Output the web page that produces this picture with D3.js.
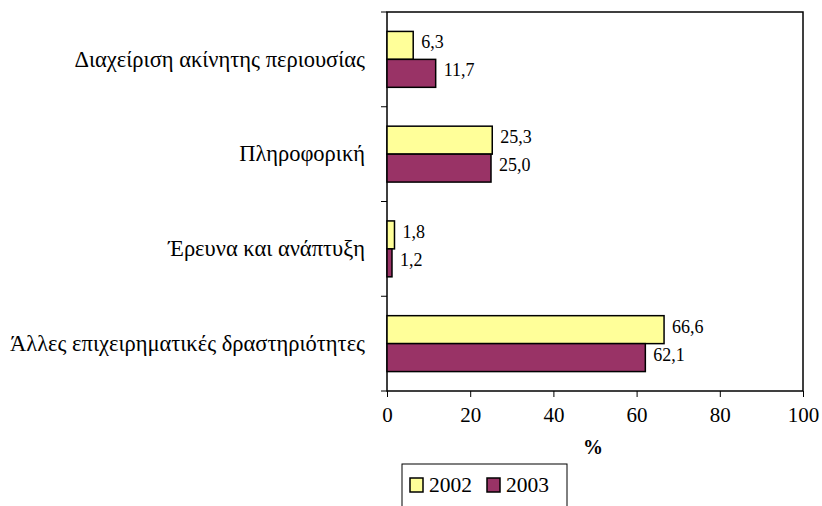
<!DOCTYPE html>
<html>
<head>
<meta charset="utf-8">
<script src="https://cdn.jsdelivr.net/npm/d3@7/dist/d3.min.js"></script>
<style>
  html, body { margin: 0; padding: 0; background: #fff; }
  svg { display: block; }
</style>
</head>
<body>
<svg id="chart" width="822" height="506"></svg>
<script>
// Sector categories (top to bottom)
const categories = [
  "Διαχείριση ακίνητης περιουσίας",
  "Πληροφορική",
  "Έρευνα και ανάπτυξη",
  "Άλλες επιχειρηματικές δραστηριότητες"
];
const years = ["2002", "2003"];
const values2002 = [6.3, 25.3, 1.8, 66.6];
const values2003 = [11.7, 25.0, 1.2, 62.1];
const xTicks = [0, 20, 40, 60, 80, 100];
const axisTitle = "%";

const colors = { "2002": "#FFFF99", "2003": "#993366" };
const FONT = "'Liberation Serif', 'Times New Roman', serif";

const svg = d3.select("#chart");
const plot = { left: 387, right: 803, top: 12, bottom: 391 };

const x = d3.scaleLinear().domain([0, 100]).range([plot.left, plot.right]);
const y = d3.scaleBand().domain(categories).range([plot.top, plot.bottom]).paddingInner(0.41).paddingOuter(0.205);
const ySeries = d3.scaleBand().domain(years).range([0, y.bandwidth()]);

const rows = categories.map((c, i) => ({ cat: c, vals: [
  { year: "2002", v: values2002[i] },
  { year: "2003", v: values2003[i] }
]}));

// plot frame
svg.append("rect")
  .attr("x", plot.left).attr("y", plot.top)
  .attr("width", plot.right - plot.left).attr("height", plot.bottom - plot.top)
  .attr("fill", "none").attr("stroke", "#000").attr("stroke-width", 1.5);

// category tick marks on the left edge (band boundaries)
const bandEdges = d3.range(categories.length + 1).map(i => plot.top + i * (plot.bottom - plot.top) / categories.length);
svg.append("g").selectAll("line").data(bandEdges).join("line")
  .attr("x1", plot.left - 6).attr("x2", plot.left)
  .attr("y1", d => d).attr("y2", d => d)
  .attr("stroke", "#000").attr("stroke-width", 1);

// category labels
svg.append("g").selectAll("text").data(categories).join("text")
  .attr("x", 365)
  .attr("y", d => y(d) + y.bandwidth() / 2)
  .attr("dy", "0.32em")
  .attr("text-anchor", "end")
  .style("font-family", FONT)
  .style("font-size", "22.5px")
  .text(d => d);

// x axis
const xAxis = d3.axisBottom(x).tickValues(xTicks).tickSize(6).tickPadding(10).tickFormat(d3.format("d"));
const gx = svg.append("g").attr("transform", `translate(0,${plot.bottom})`).call(xAxis);
gx.select(".domain").remove();
gx.selectAll(".tick line").attr("stroke", "#000");
gx.selectAll(".tick text").attr("fill", "#000").style("font-size", "21px").style("font-family", FONT);

svg.append("text")
  .attr("x", (plot.left + plot.right) / 2 - 2)
  .attr("y", 454)
  .attr("text-anchor", "middle")
  .style("font-family", FONT)
  .style("font-size", "20px").style("font-weight", "bold")
  .text(axisTitle);

// bars
const groups = svg.append("g").selectAll("g").data(rows).join("g")
  .attr("transform", d => `translate(0,${y(d.cat)})`);

groups.selectAll("rect").data(d => d.vals).join("rect")
  .attr("x", x(0))
  .attr("y", d => ySeries(d.year))
  .attr("width", d => x(d.v) - x(0))
  .attr("height", ySeries.bandwidth())
  .attr("fill", d => colors[d.year])
  .attr("stroke", "#000").attr("stroke-width", 1.5);

// value labels
const fmt = v => d3.format(".1f")(v).replace(".", ",");
groups.selectAll("text").data(d => d.vals).join("text")
  .attr("x", d => x(d.v) + 8)
  .attr("y", d => ySeries(d.year) + ySeries.bandwidth() / 2 + 3)
  .style("font-family", FONT)
  .style("font-size", "18px")
  .text(d => fmt(d.v));

// legend
const legend = svg.append("g");
legend.append("rect")
  .attr("x", 402).attr("y", 464).attr("width", 165).attr("height", 60)
  .attr("fill", "#fff").attr("stroke", "#000").attr("stroke-width", 1);
const legendItems = legend.selectAll("g").data(years).join("g")
  .attr("transform", (d, i) => `translate(${410 + i * 77},478)`);
legendItems.append("rect")
  .attr("width", 13).attr("height", 14)
  .attr("fill", d => colors[d]).attr("stroke", "#000").attr("stroke-width", 1.5);
legendItems.append("text")
  .attr("x", 19).attr("y", 14)
  .style("font-family", FONT)
  .style("font-size", "21.5px")
  .text(d => d);
</script>
</body>
</html>
